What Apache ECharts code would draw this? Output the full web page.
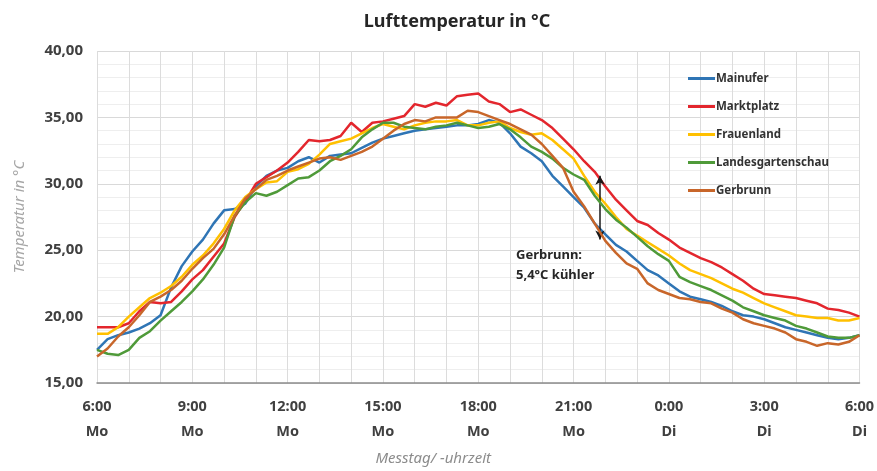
<!DOCTYPE html>
<html>
<head>
<meta charset="utf-8">
<script src="https://cdn.jsdelivr.net/npm/echarts@6/dist/echarts.min.js"></script>
<style>
html,body{margin:0;padding:0;background:#fff;}
#chart{width:877px;height:471px;}
</style>
</head>
<body>
<div id="chart"></div>
<script>
// Time: 20-minute steps from 6:00 Mo (0 h) to 6:00 Di (24 h)
const stepHours = 1/3;
const seriesNames = ['Mainufer', 'Marktplatz', 'Frauenland', 'Landesgartenschau', 'Gerbrunn'];
const seriesColors = ['#2f75b5', '#e3262d', '#ffc000', '#4f9a39', '#c8662a'];

const mainufer = [17.5,18.3,18.6,18.8,19.1,19.5,20.1,22.2,23.8,24.9,25.8,27.0,28.0,28.1,28.5,29.8,30.6,31.0,31.2,31.7,32.0,31.6,32.1,32.2,32.3,32.7,33.1,33.4,33.6,33.8,34.0,34.1,34.2,34.3,34.4,34.4,34.5,34.8,34.6,33.8,32.8,32.3,31.7,30.6,29.8,29.0,28.2,27.0,26.2,25.4,24.9,24.2,23.5,23.1,22.5,21.9,21.5,21.3,21.1,20.8,20.4,20.1,20.0,19.8,19.5,19.2,19.0,18.8,18.6,18.4,18.3,18.4,18.6];
const marktplatz = [19.2,19.2,19.2,19.5,20.4,21.1,21.0,21.1,21.9,22.8,23.5,24.5,25.5,27.5,28.7,30.0,30.5,31.0,31.6,32.4,33.3,33.2,33.3,33.6,34.6,33.9,34.6,34.7,34.9,35.1,36.0,35.8,36.1,35.9,36.6,36.7,36.8,36.2,36.0,35.4,35.6,35.2,34.8,34.2,33.4,32.6,31.7,30.9,29.8,28.8,28.0,27.2,26.9,26.3,25.8,25.2,24.8,24.4,24.1,23.7,23.2,22.7,22.1,21.7,21.6,21.5,21.4,21.2,21.0,20.6,20.5,20.3,20.0];
const frauenland = [18.7,18.7,19.2,20.0,20.7,21.4,21.8,22.3,23.0,23.9,24.6,25.5,26.6,28.0,29.0,29.6,30.1,30.2,30.9,31.1,31.5,32.2,33.0,33.2,33.4,33.8,34.2,34.5,34.3,34.1,34.4,34.6,34.7,34.7,34.8,34.4,34.4,34.6,34.7,34.2,33.9,33.7,33.8,33.3,32.6,31.9,30.6,29.4,28.5,27.5,26.6,26.1,25.6,25.1,24.6,24.0,23.5,23.2,22.9,22.5,22.1,21.8,21.4,21.0,20.7,20.4,20.1,20.0,19.9,19.9,19.7,19.7,19.9];
const landesgartenschau = [17.5,17.2,17.1,17.5,18.4,18.9,19.7,20.4,21.1,21.9,22.8,23.9,25.2,27.6,28.6,29.3,29.1,29.4,29.9,30.4,30.5,31.0,31.7,32.1,32.6,33.5,34.1,34.6,34.6,34.3,34.2,34.1,34.3,34.4,34.6,34.4,34.2,34.3,34.5,34.1,33.5,32.8,32.4,31.9,31.2,30.7,30.3,29.1,28.1,27.3,26.7,26.0,25.3,24.7,24.2,23.0,22.6,22.3,22.0,21.6,21.2,20.7,20.4,20.1,19.9,19.7,19.3,19.1,18.8,18.5,18.4,18.4,18.6];
const gerbrunn = [17.0,17.6,18.5,19.2,20.1,21.1,21.5,22.0,22.7,23.6,24.4,25.1,26.2,27.6,28.9,29.6,30.3,30.6,31.0,31.3,31.6,31.9,32.0,31.8,32.1,32.4,32.8,33.4,34.0,34.5,34.8,34.7,35.0,35.0,35.0,35.5,35.4,35.1,34.8,34.5,34.1,33.7,33.0,32.1,31.2,29.4,28.3,27.0,25.7,24.8,24.0,23.6,22.5,22.0,21.7,21.4,21.3,21.1,21.0,20.6,20.3,19.8,19.5,19.3,19.1,18.8,18.3,18.1,17.8,18.0,17.9,18.1,18.6];

// x tick labels every 3 hours (hours since 6:00 Mo)
const xTickHours = [0, 3, 6, 9, 12, 15, 18, 21, 24];
const xTickLabels = ['6:00\nMo','9:00\nMo','12:00\nMo','15:00\nMo','18:00\nMo','21:00\nMo','0:00\nDi','3:00\nDi','6:00\nDi'];

// annotation
const annotText = 'Gerbrunn:\n5,4°C kühler';
const arrowHour = 15.83;
const arrowTop = 30.6;
const arrowBottom = 25.8;

const allData = [mainufer, marktplatz, frauenland, landesgartenschau, gerbrunn];

const chart = echarts.init(document.getElementById('chart'), null, {renderer: 'canvas'});

const series = allData.map((arr, k) => ({
  name: seriesNames[k],
  type: 'line',
  data: arr.map((v, i) => [i * stepHours, v]),
  symbol: 'none',
  smooth: false,
  lineStyle: {width: 2.5, color: seriesColors[k]},
  itemStyle: {color: seriesColors[k]},
  z: 2 + k,
  animation: false
}));

series.push({
  name: 'arrow',
  type: 'line',
  data: [],
  z: 20,
  markLine: {
    silent: true,
    symbol: ['arrow', 'arrow'],
    symbolSize: [7, 9],
    label: {show: false},
    lineStyle: {color: '#1a1a1a', width: 1.5, type: 'solid'},
    data: [[{coord: [arrowHour, arrowTop]}, {coord: [arrowHour, arrowBottom]}]],
    animation: false
  }
});

const option = {
  backgroundColor: '#ffffff',
  animation: false,
  title: {
    text: 'Lufttemperatur in °C',
    left: 452,
    top: 8,
    textAlign: 'center',
    textStyle: {fontFamily: 'Noto Sans', fontWeight: 'bold', fontSize: 18, color: '#262626'}
  },
  grid: {left: 97, right: 15, top: 51, bottom: 86, containLabel: false},
  legend: {
    data: seriesNames,
    orient: 'vertical',
    left: 683,
    top: 66,
    itemGap: 13,
    itemWidth: 27,
    itemHeight: 3,
    icon: 'rect',
    textStyle: {fontFamily: 'Noto Sans', fontWeight: 'bold', fontSize: 11.5, lineHeight: 15, color: '#333333', padding: [0,0,0,-4]}
  },
  xAxis: {
    type: 'value',
    min: 0,
    max: 24,
    interval: 1,
    name: 'Messtag/ -uhrzeit',
    nameLocation: 'middle',
    nameGap: 68,
    nameTextStyle: {fontFamily: 'Noto Sans', fontStyle: 'italic', fontSize: 15, color: '#8c8c8c', padding: [0, 90, 0, 0]},
    axisLine: {show: true, onZero: false, lineStyle: {color: '#8c8c8c', width: 1.5}},
    axisTick: {show: false},
    splitLine: {show: true, lineStyle: {color: '#dcdcdc', width: 1}},
    axisLabel: {
      margin: 11,
      lineHeight: 25,
      fontFamily: 'Noto Sans',
      fontWeight: 'bold',
      fontSize: 14.5,
      color: '#404040',
      formatter: function (v) {
        const idx = xTickHours.indexOf(Math.round(v));
        return (idx >= 0 && Math.abs(v - Math.round(v)) < 1e-6) ? xTickLabels[idx] : '';
      }
    }
  },
  yAxis: {
    type: 'value',
    min: 15,
    max: 40,
    interval: 5,
    name: 'Temperatur in °C',
    nameLocation: 'middle',
    nameGap: 70,
    nameRotate: 90,
    nameTextStyle: {fontFamily: 'Noto Sans', fontStyle: 'italic', fontSize: 15, color: '#a6a6a6'},
    axisLine: {show: false},
    axisTick: {show: false},
    splitLine: {show: true, lineStyle: {color: '#d9d9d9', width: 1}},
    minorTick: {show: false, splitNumber: 5},
    minorSplitLine: {show: true, lineStyle: {color: '#eeeeee', width: 1}},
    axisLabel: {
      margin: 14,
      fontFamily: 'Noto Sans',
      fontWeight: 'bold',
      fontSize: 15,
      color: '#404040',
      formatter: function (v) { return v.toFixed(2).replace('.', ','); }
    }
  },
  graphic: [{
    type: 'text',
    left: 516,
    top: 245,
    z: 30,
    style: {
      text: annotText,
      fontFamily: 'Noto Sans',
      fontWeight: 'bold',
      fontSize: 13,
      lineHeight: 20,
      fill: '#262626'
    }
  }],
  series: series
};

chart.setOption(option);
</script>
</body>
</html>
